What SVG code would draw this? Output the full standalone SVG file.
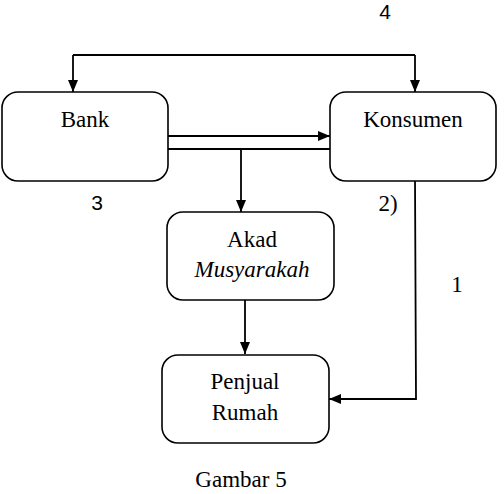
<svg xmlns="http://www.w3.org/2000/svg" width="504" height="494" viewBox="0 0 504 494">
<defs>
<marker id="ah" viewBox="0 0 12 10" refX="12" refY="5" markerWidth="12" markerHeight="10" markerUnits="userSpaceOnUse" orient="auto">
<path d="M0,0 L12,5 L0,10 Z" fill="#000"/>
</marker>
</defs>
<style>
.box{fill:#fff;stroke:#000;stroke-width:1.6}
.t{font-family:"Liberation Serif","Times New Roman",serif;font-size:23px;fill:#000;text-anchor:middle}
.s{font-family:"Liberation Sans",Arial,sans-serif;font-size:21px;fill:#000;text-anchor:middle}
.c{fill:none;stroke:#000;stroke-width:1.8}
</style>
<rect width="504" height="494" fill="#fff"/>
<g id="connectors">
<path class="c" d="M73,55 H415" />
<path class="c" d="M73,55 V92" marker-end="url(#ah)"/>
<path class="c" d="M415,55 V92" marker-end="url(#ah)"/>
<path class="c" d="M168,136 H330" marker-end="url(#ah)"/>
<path class="c" d="M168,149 H330"/>
<path class="c" d="M241,149 V212" marker-end="url(#ah)"/>
<path class="c" d="M245,300 V354" marker-end="url(#ah)"/>
<path class="c" d="M415,178 L416,399 H329" marker-end="url(#ah)"/>
</g>
<g id="bank">
<rect class="box" x="2" y="92" width="166" height="89" rx="16"/>
<text class="t" x="85" y="127">Bank</text>
</g>
<g id="konsumen">
<rect class="box" x="330" y="92" width="166" height="89" rx="16"/>
<text class="t" x="413" y="127">Konsumen</text>
</g>
<g id="akad">
<rect class="box" x="167" y="212" width="167" height="88" rx="16"/>
<text class="t" x="252" y="247">Akad</text>
<text class="t" x="252" y="277" font-style="italic">Musyarakah</text>
</g>
<g id="penjual">
<rect class="box" x="162" y="355" width="167" height="88" rx="16"/>
<text class="t" x="245" y="389">Penjual</text>
<text class="t" x="245" y="420">Rumah</text>
</g>
<g id="labels">
<text class="s" x="385" y="19">4</text>
<text class="s" x="97" y="210">3</text>
<text class="t" x="388" y="211">2)</text>
<text class="t" x="457" y="292">1</text>
<text class="t" x="241" y="487">Gambar 5</text>
</g>
</svg>
